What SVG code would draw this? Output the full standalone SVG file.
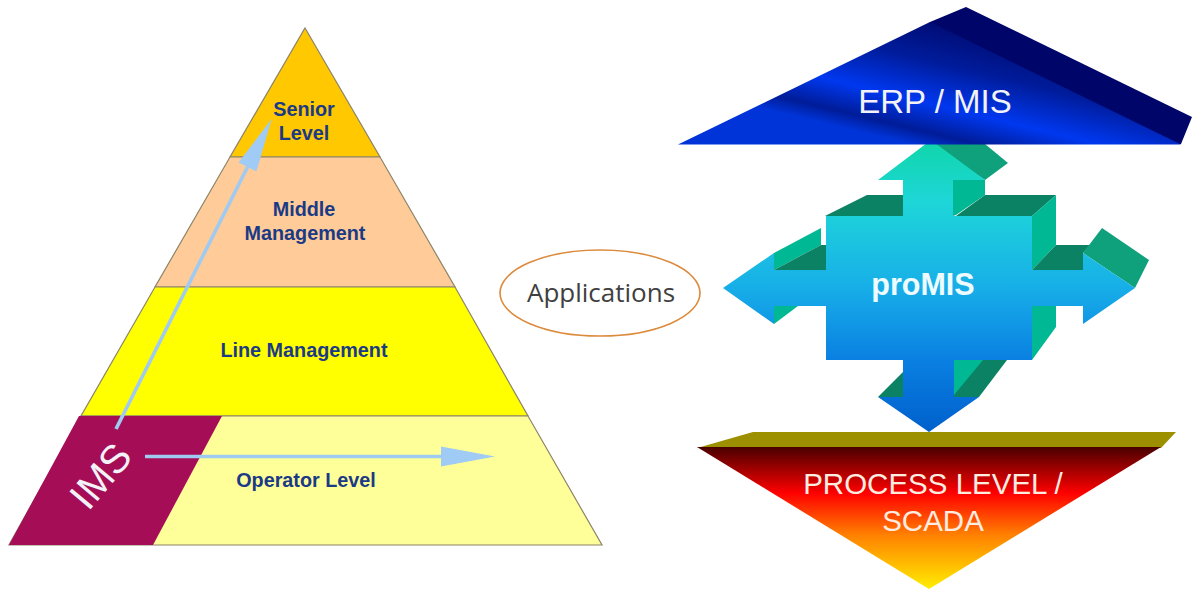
<svg xmlns="http://www.w3.org/2000/svg" width="1192" height="590" viewBox="0 0 1192 590">
<style>
.lvl{stroke:#8c8468;stroke-width:1.2}
.lbl{font-family:"Liberation Sans",Arial,sans-serif;font-weight:700;font-size:19.8px;fill:#1b3a85;text-anchor:middle}
.big{font-family:"Liberation Sans",Arial,sans-serif;fill:#f2f2f8;text-anchor:middle}
.warm{fill:#ffece0}
.conn{stroke:#9fcbf2;stroke-width:3.6;fill:none;marker-end:url(#head)}
.dk{fill:#0a8263}
.md{fill:#0fa07c}
.lt{fill:#00b893}
</style>
<defs>
<marker id="head" markerUnits="userSpaceOnUse" markerWidth="56" markerHeight="22" refX="0" refY="10" orient="auto" overflow="visible"><path d="M0,0 L54,10 L0,20 Z" fill="#9fcbf5"/></marker>
<linearGradient id="erp" gradientUnits="userSpaceOnUse" x1="945" y1="20" x2="915" y2="145">
<stop offset="0" stop-color="#000a70"/><stop offset=".34" stop-color="#001c9c"/><stop offset=".66" stop-color="#0038f0"/><stop offset=".88" stop-color="#001c98"/><stop offset="1" stop-color="#0034d8"/>
</linearGradient>
<linearGradient id="cross" gradientUnits="userSpaceOnUse" x1="0" y1="144" x2="0" y2="432">
<stop offset="0" stop-color="#10d6ac"/><stop offset=".2" stop-color="#1ed6d8"/><stop offset=".5" stop-color="#17aee8"/><stop offset=".75" stop-color="#0a80e2"/><stop offset="1" stop-color="#0060cc"/>
</linearGradient>
<linearGradient id="proc" gradientUnits="userSpaceOnUse" x1="0" y1="446" x2="0" y2="589">
<stop offset="0" stop-color="#450000"/><stop offset=".33" stop-color="#ff0000"/><stop offset=".62" stop-color="#ff8000"/><stop offset="1" stop-color="#ffee00"/>
</linearGradient>
</defs>
<rect width="1192" height="590" fill="#fff"/>
<g id="senior-level">
<polygon class="lvl" points="305,28 380,157 230,157" fill="#ffc800"/>
<text class="lbl"><tspan x="304" y="116">Senior</tspan><tspan x="304" y="140">Level</tspan></text>
</g>
<g id="middle-management">
<polygon class="lvl" points="230,157 380,157 455,287 155,287" fill="#ffcc99"/>
<text class="lbl"><tspan x="304" y="216">Middle</tspan><tspan x="305" y="240">Management</tspan></text>
</g>
<g id="line-management">
<polygon class="lvl" points="155,287 455,287 528,416 81,416" fill="#ffff00"/>
<text class="lbl" x="304" y="357">Line Management</text>
</g>
<g id="operator-level">
<polygon class="lvl" points="81,416 528,416 602,545 9,545" fill="#ffff99"/>
<text class="lbl" x="306" y="487">Operator Level</text>
</g>
<g id="ims">
<polygon points="79,416 222,416 153,545 9,545" fill="#a50d56"/>
<text class="big" transform="translate(103,478) rotate(-50)" font-size="40" x="0" y="0" dominant-baseline="middle">IMS</text>
</g>
<g id="connectors">
<line class="conn" x1="116" y1="429" x2="247.5" y2="167"/>
<line class="conn" x1="145" y1="456.500" x2="441" y2="456.500"/>
</g>
<g id="applications">
<ellipse cx="600" cy="293" rx="100" ry="43" fill="#fff" stroke="#dc8a3c" stroke-width="1.6"/>
<text x="601" y="302" font-family="'Open Sans',sans-serif" font-size="26" fill="#404040" text-anchor="middle">Applications</text>
</g>
<g id="promis">
<polygon class="md" points="931,144 985,144 1008,163 985,180"/>
<polygon class="lt" points="953,180 985,180 985,195 956,215 953,216"/>
<polygon class="dk" points="825,216 867,195 903,195 903,216"/>
<polygon class="dk" points="956,216 985,195 1056,195 1032,216"/>
<polygon class="lt" points="1032,216 1056,195 1056,245 1032,270"/>
<polygon class="dk" points="1032,270 1056,245 1090,245 1083,253 1083,270"/>
<polygon class="md" points="1083,253 1102,228 1149,260 1135,288"/>
<polygon class="lt" points="1032,306 1056,306 1056,327 1032,360"/>
<polygon class="lt" points="774,253 821,228 821,245 774,270"/>
<polygon class="dk" points="774,270 821,245 826,245 826,270"/>
<polygon class="lt" points="774,306 798,306 774,324"/>
<polygon class="dk" points="878,397 903,372 903,397"/>
<polygon class="dk" points="954,360 1007,360 979,397 954,397"/>
<polygon class="lt" points="954,360 983,360 954,395"/>
<polygon fill="url(#cross)" points="931,140 985,180 953,180 953,216 1032,216 1032,270 1083,270 1083,253 1135,288 1083,324 1083,306 1032,306 1032,360 954,360 954,397 979,397 929,432 878,397 903,397 903,360 826,360 826,306 774,306 774,324 723,288 774,253 774,270 826,270 826,216 903,216 903,180 878,180"/>
<text x="923" y="295" font-family="'Liberation Sans',Arial,sans-serif" font-weight="700" font-size="30.500" fill="#eefcff" text-anchor="middle">proMIS</text>
</g>
<g id="erp-mis">
<polygon points="925,30 930,22 966,7 1192,117 1181,144 1170,144 1050,100" fill="#00056a"/>
<polygon points="678,144.500 930,22 1181,144.500" fill="url(#erp)"/>
<text class="big" x="935" y="113" font-size="33">ERP / MIS</text>
</g>
<g id="process-level">
<polygon points="753,432 1176,432 1161,448 697,448" fill="#9c8f00"/>
<polygon points="697,447 1161,447 929,589" fill="url(#proc)"/>
<text class="big warm" font-size="29.500"><tspan x="933" y="494">PROCESS LEVEL /</tspan><tspan x="933" y="531">SCADA</tspan></text>
</g>
</svg>
